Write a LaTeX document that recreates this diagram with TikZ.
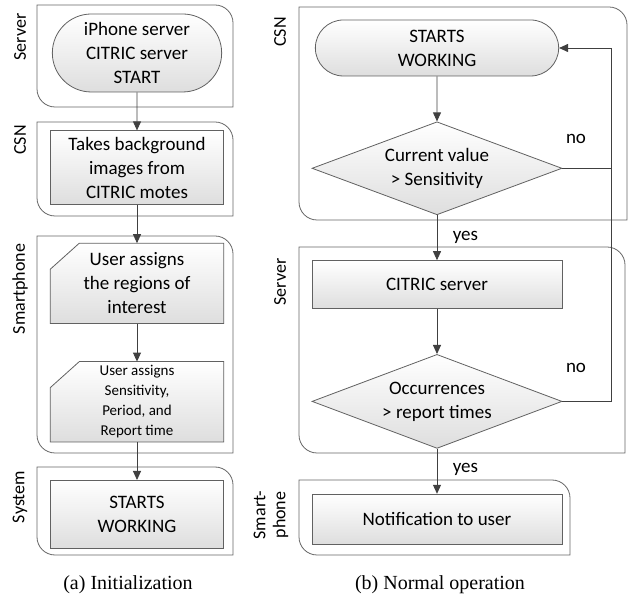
\documentclass[tikz,border=0pt]{standalone}
\usepackage{fontspec}
\setmainfont{Carlito}
\newfontfamily\capfont{Liberation Serif}
\usepackage{tikz}
\usetikzlibrary{arrows.meta, chains, positioning, shapes.misc, shapes.geometric, backgrounds}
\tikzset{
>={Triangle[length=9pt,width=8pt]},
  boxfill/.style={
    top color=white,
    bottom color=black!13,
    draw=black!62, line width=0.8pt},
  startstop/.style={
    rounded rectangle,
    boxfill,
    align=center,
    font=\fontsize{19}{24}\selectfont,
    on chain},
  process/.style={
    rectangle,
    boxfill,
    align=center,
    font=\fontsize{19}{24}\selectfont,
    on chain},
  manualin/.style={
    rectangle,
    align=center,
    font=\fontsize{19}{24}\selectfont,
    on chain},
  decision/.style={
    diamond,
    aspect=2.7,
    inner sep=1pt,
    boxfill,
    align=center,
    font=\fontsize{19}{24}\selectfont,
    on chain},
  lane/.style={draw=black!60, line width=0.8pt},
  lanelabel/.style={rotate=90, font=\fontsize{18}{20}\selectfont, align=center},
  flow/.style={draw=black!75, line width=0.9pt, ->},
  line/.style={draw=black!75, line width=0.9pt},
  every join/.style={flow},
  tag/.style={font=\fontsize{19}{22}\selectfont},
  caption/.style={font=\capfont\fontsize{20}{24}\selectfont},
}
\newcommand{\lanebox}[4]{%
  \draw[lane] (#1,#2) -- ({#3-18},#2) arc[start angle=90, end angle=0, radius=18pt]
    -- (#3,#4) -- ({#1+18},#4) arc[start angle=270, end angle=180, radius=18pt] -- cycle;}
\newcommand{\manualshape}[1]{%
  \path[boxfill] ([yshift=-26pt]#1.north west) -- ([xshift=29pt]#1.north west) -- (#1.north east)
    -- (#1.south east) -- (#1.south west) -- cycle;}

\begin{document}
\begin{tikzpicture}[x=1pt, y=1pt]
\useasboundingbox (0,0) rectangle (639,599);

% swim lanes
\lanebox{37}{594}{233}{492}
\lanebox{37}{477}{233}{383}
\lanebox{37}{363}{233}{146}
\lanebox{37}{132}{233}{44}
\lanebox{299}{592}{627}{379}
\lanebox{299}{352}{625}{146}
\lanebox{299}{119}{570}{44}

\node[lanelabel] (laneServerA) at (20,562) {Server};
\node[lanelabel] (laneCsnA)    at (20,459) {CSN};
\node[lanelabel] (lanePhoneA)  at (20,310) {Smartphone};
\node[lanelabel] (laneSystemA) at (20,102) {System};
\node[lanelabel] (laneCsnB)    at (280,567) {CSN};
\node[lanelabel] (laneServerB) at (280,317) {Server};
\node[lanelabel] (lanePhoneB)  at (271,84) {Smart-\\phone};

% (a) initialization
\begin{scope}[node distance=38pt, start chain=going below]
     \node[startstop, minimum width=176pt, minimum height=78pt] (ServerStart) at (137,546) {iPhone server\\CITRIC server\\START};
     \node[process, join, minimum width=173pt, minimum height=74pt] (Background) {Takes background\\images from\\CITRIC motes};
     \node[manualin, join, minimum width=173pt, minimum height=80pt] (Regions) {User assigns\\the regions of\\interest};
     \node[manualin, join, minimum width=173pt, minimum height=80pt, font=\fontsize{15}{20}\selectfont] (Settings) {User assigns\\Sensitivity,\\Period, and\\Report time};
     \node[process, join, minimum width=173pt, minimum height=68pt] (Working) {STARTS\\WORKING};
\end{scope}
\begin{scope}[on background layer]
     \manualshape{Regions}
     \manualshape{Settings}
\end{scope}

% (b) normal operation
\begin{scope}[node distance=45pt, start chain=going below]
     \node[startstop, minimum width=250pt, minimum height=56pt] (CsnStart) at (437,551) {STARTS\\WORKING};
     \node[decision, minimum width=250pt, minimum height=93pt] (Sensitivity) {Current value\\> Sensitivity};
     \node[process, minimum width=250pt, minimum height=48pt] (CitricServer) {CITRIC server};
     \node[decision, minimum width=250pt, minimum height=94pt] (Occurrences) {Occurrences\\> report times};
     \node[process, minimum width=250pt, minimum height=50pt] (Notify) {Notification to user};
\end{scope}

\coordinate (loop) at (611,0);
\draw[flow] (CsnStart) -- (Sensitivity);
\draw[flow] (Sensitivity) -- node[tag, right=12pt] (yesA) {yes} (CitricServer);
\draw[flow] (CitricServer) -- (Occurrences);
\draw[flow] (Occurrences) -- node[tag, right=12pt, pos=0.45] (yesB) {yes} (Notify);
\draw[flow] (Sensitivity.east) -| node[tag, pos=0.14, yshift=29pt] (noA) {no} (loop |- CsnStart.east) -- (CsnStart.east);
\draw[line] (Occurrences.east) -| node[tag, pos=0.14, yshift=33pt] (noB) {no} (loop |- Sensitivity.east);

\node[caption] (capA) at (128,14) {(a) Initialization};
\node[caption] (capB) at (440,14) {(b) Normal operation};
\end{tikzpicture}
\end{document}
